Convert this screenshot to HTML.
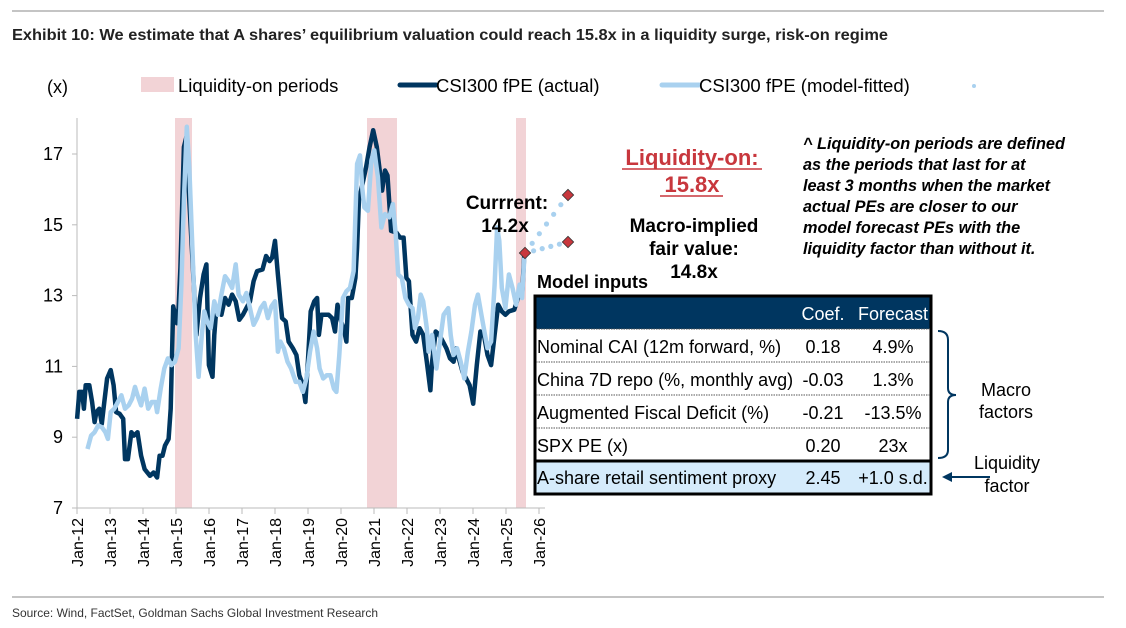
<!DOCTYPE html>
<html><head><meta charset="utf-8"><style>
html,body{margin:0;padding:0;background:#fff;}
svg{display:block;font-family:"Liberation Sans",Arial,sans-serif;}
</style></head><body>
<svg id="s" width="1126" height="628" viewBox="0 0 1126 628" xmlns="http://www.w3.org/2000/svg">
<line x1="12" y1="11" x2="1104" y2="11" stroke="#888" stroke-width="1"/>
<text x="12" y="40" font-size="16" font-weight="bold" fill="#222" textLength="876" lengthAdjust="spacingAndGlyphs">Exhibit 10: We estimate that A shares’ equilibrium valuation could reach 15.8x in a liquidity surge, risk-on regime</text>
<!-- legend -->
<text x="47" y="93" font-size="18" fill="#000">(x)</text>
<rect x="141" y="77" width="33" height="15" fill="#f2d3d6"/>
<text x="178" y="92" font-size="18.5">Liquidity-on periods</text>
<line x1="400" y1="85" x2="436" y2="85" stroke="#003660" stroke-width="5" stroke-linecap="round"/>
<text x="436" y="92" font-size="18.5">CSI300 fPE (actual)</text>
<line x1="662" y1="85" x2="699" y2="85" stroke="#a9d1ef" stroke-width="5" stroke-linecap="round"/>
<text x="699" y="92" font-size="18.5">CSI300 fPE (model-fitted)</text>
<circle cx="974" cy="86" r="2" fill="#a9d1ef"/>
<!-- bands -->
<rect x="175" y="118" width="17" height="390" fill="#f2d3d6"/>
<rect x="367" y="118" width="30" height="390" fill="#f2d3d6"/>
<rect x="516" y="118" width="10" height="390" fill="#f2d3d6"/>
<g id="axes" stroke="#bbb" stroke-width="1"></g>
<g id="lbl" font-size="18" text-anchor="end"></g>
<polyline id="dk" fill="none" stroke="#003660" stroke-width="4.5" stroke-linejoin="round"/>
<polyline id="lt" fill="none" stroke="#a9d1ef" stroke-width="4.5" stroke-linejoin="round"/>
<g fill="#a9d1ef" id="dots"></g>
<g fill="#c8373d" stroke="#333" stroke-width="0.8">
<rect x="521" y="249" width="8" height="8" transform="rotate(45 525 253)"/>
<rect x="564" y="191" width="8" height="8" transform="rotate(45 568 195)"/>
<rect x="564" y="238" width="8" height="8" transform="rotate(45 568 242)"/>
</g>
<g font-weight="bold" font-size="19" text-anchor="middle">
<text x="507" y="209">Currrent:</text>
<text x="505" y="232">14.2x</text>
<text x="692" y="165" fill="#c8373d" font-size="22">Liquidity-on:</text>
<line x1="622" y1="169" x2="762" y2="169" stroke="#c8373d" stroke-width="1.5"/>
<text x="692" y="192" fill="#c8373d" font-size="22">15.8x</text>
<line x1="660" y1="196" x2="723" y2="196" stroke="#c8373d" stroke-width="1.5"/>
<text x="694" y="232">Macro-implied</text>
<text x="694" y="255">fair value:</text>
<text x="694" y="278">14.8x</text>
<text x="537" y="288" text-anchor="start" font-size="18">Model inputs</text>
</g>
<g font-size="16.3" font-style="italic" font-weight="bold">
<text x="803" y="149">^ Liquidity-on periods are defined</text>
<text x="803" y="170">as the periods that last for at</text>
<text x="803" y="191">least 3 months when the market</text>
<text x="803" y="212">actual PEs are closer to our</text>
<text x="803" y="233">model forecast PEs with the</text>
<text x="803" y="254">liquidity factor than without it.</text>
</g>
<!-- table -->
<rect x="535" y="296" width="396" height="33" fill="#003660"/>
<rect x="535" y="462" width="396" height="32" fill="#d5ebfb"/>
<rect x="535" y="296" width="396" height="198" fill="none" stroke="#000" stroke-width="3"/>
<g stroke="#555" stroke-width="1" stroke-dasharray="1.5 1">
<line x1="536" y1="329" x2="930" y2="329"/><line x1="536" y1="362" x2="930" y2="362"/>
<line x1="536" y1="395" x2="930" y2="395"/><line x1="536" y1="428" x2="930" y2="428"/>
</g>
<line x1="535" y1="461" x2="931" y2="461" stroke="#000" stroke-width="3"/>
<g font-size="18">
<text x="823" y="320" fill="#fff" text-anchor="middle">Coef.</text>
<text x="893" y="320" fill="#fff" text-anchor="middle">Forecast</text>
<text x="537" y="353">Nominal CAI (12m forward, %)</text><text x="823" y="353" text-anchor="middle">0.18</text><text x="893" y="353" text-anchor="middle">4.9%</text>
<text x="537" y="386">China 7D repo (%, monthly avg)</text><text x="823" y="386" text-anchor="middle">-0.03</text><text x="893" y="386" text-anchor="middle">1.3%</text>
<text x="537" y="419">Augmented Fiscal Deficit (%)</text><text x="823" y="419" text-anchor="middle">-0.21</text><text x="893" y="419" text-anchor="middle">-13.5%</text>
<text x="537" y="452">SPX PE (x)</text><text x="823" y="452" text-anchor="middle">0.20</text><text x="893" y="452" text-anchor="middle">23x</text>
<text x="537" y="484">A-share retail sentiment proxy</text><text x="823" y="484" text-anchor="middle">2.45</text><text x="893" y="484" text-anchor="middle">+1.0 s.d.</text>
</g>
<path d="M938 331 Q948 331 948 340 L948 388 Q948 395 956 395 Q948 395 948 402 L948 450 Q948 458 938 458" fill="none" stroke="#003660" stroke-width="2"/>
<line x1="950" y1="477" x2="990" y2="477" stroke="#003660" stroke-width="2"/>
<path d="M942 477 L952 472 L952 482 Z" fill="#003660"/>
<g font-size="18" text-anchor="middle">
<text x="1006" y="396">Macro</text><text x="1006" y="418">factors</text>
<text x="1007" y="469">Liquidity</text><text x="1007" y="492">factor</text>
</g>
<line x1="12" y1="597" x2="1104" y2="597" stroke="#888" stroke-width="1"/>
<text x="12" y="617" font-size="12" fill="#333" textLength="366" lengthAdjust="spacingAndGlyphs">Source: Wind, FactSet, Goldman Sachs Global Investment Research</text>
</svg>
<script>
var NS="http://www.w3.org/2000/svg";
function el(t,a,p,txt){var e=document.createElementNS(NS,t);for(var k in a)e.setAttribute(k,a[k]);if(txt)e.textContent=txt;document.getElementById(p).appendChild(e);return e;}
function Y(v){return 508-(v-7)*35.4;}
el("line",{x1:77,y1:118,x2:77,y2:508},"axes");
el("line",{x1:77,y1:508,x2:545,y2:508},"axes");
[7,9,11,13,15,17].forEach(function(v){el("line",{x1:72,y1:Y(v),x2:77,y2:Y(v)},"axes");el("text",{x:63,y:Y(v)+6},"lbl",String(v));});
for(var i=0;i<=14;i++){var x=77+i*33;el("line",{x1:x,y1:508,x2:x,y2:514},"axes");
el("text",{x:0,y:0,"font-size":"16","text-anchor":"end",transform:"translate("+(x+6)+",518) rotate(-90)"},"lbl","Jan-"+(12+i));}
var dk=[216,950,222,870,230,870,235,920,240,850,250,850,258,900,265,960,270,930,278,920,285,965,292,900,300,830,310,805,318,850,325,930,335,935,345,950,350,1070,358,1070,368,990,375,1000,385,990,395,1060,405,1100,420,1120,430,1110,440,1125,447,1060,455,1060,462,1030,472,1010,478,920,485,615,495,665,500,620,505,500,515,140,522,110,530,300,540,500,550,700,560,590,570,520,578,490,585,790,595,825,600,700,605,630,612,620,620,640,630,590,640,610,650,580,660,600,670,655,680,640,690,620,700,600,710,540,720,510,735,505,745,465,755,480,762,470,770,420,778,520,785,600,790,650,800,660,808,720,820,740,830,760,838,820,848,850,855,900,862,780,870,630,880,600,888,590,893,700,900,640,910,640,920,640,930,650,938,690,945,610,955,660,962,680,970,720,975,590,985,590,995,530,1000,440,1005,300,1015,250,1025,200,1035,140,1045,90,1055,140,1062,200,1070,270,1078,210,1085,225,1095,390,1110,395,1120,410,1130,410,1138,530,1145,540,1155,700,1165,720,1175,680,1185,700,1195,780,1205,865,1210,780,1220,690,1230,700,1240,720,1250,740,1260,770,1270,780,1278,740,1285,770,1295,810,1305,830,1315,850,1325,905,1335,790,1345,690,1355,700,1365,760,1375,790,1385,700,1395,610,1405,630,1415,640,1425,630,1440,625,1450,590,1462,580,1468,460];
var lt=[245,1040,255,1000,265,990,275,970,285,975,295,990,302,1010,310,930,320,920,330,900,340,880,350,920,360,910,370,890,378,855,385,880,395,910,405,860,415,920,425,900,435,900,440,930,450,860,460,800,470,770,480,790,490,780,500,740,508,550,515,300,523,80,530,200,540,480,548,700,556,825,565,700,572,630,580,660,590,680,600,600,610,640,620,580,630,525,640,540,650,560,660,490,668,580,680,600,690,575,700,620,710,670,720,650,730,620,740,605,750,650,760,615,770,600,778,750,785,720,795,740,805,780,815,800,828,840,838,840,848,870,858,830,868,750,878,690,888,740,895,800,905,830,915,820,925,820,935,860,942,870,950,760,960,590,970,570,980,560,990,510,1000,190,1008,165,1015,270,1020,320,1030,330,1040,180,1048,150,1058,230,1068,380,1078,340,1090,350,1100,310,1108,400,1115,520,1125,530,1135,590,1145,610,1155,620,1162,680,1170,650,1178,580,1185,600,1195,680,1200,750,1210,700,1222,800,1232,720,1242,640,1255,620,1262,700,1270,760,1280,740,1290,780,1300,830,1310,750,1320,690,1330,610,1338,580,1348,640,1358,700,1365,740,1375,720,1385,550,1392,380,1398,420,1405,560,1415,620,1425,520,1435,560,1445,610,1455,550,1462,590,1468,470];
function pts(a){var s=[];for(var i=0;i<a.length;i+=2)s.push((a[i]/2.8).toFixed(1)+","+(100+a[i+1]/2.98).toFixed(1));return s.join(" ");}
document.getElementById("dk").setAttribute("points",pts(dk));
document.getElementById("lt").setAttribute("points",pts(lt));
function dots(x0,y0,x1,y1,n){for(var i=1;i<n;i++){var f=i/n;el("circle",{cx:x0+(x1-x0)*f,cy:y0+(y1-y0)*f,r:2.6},"dots");}}
dots(525,253,568,195,6);dots(525,253,568,242,5);
</script>
</body></html>
